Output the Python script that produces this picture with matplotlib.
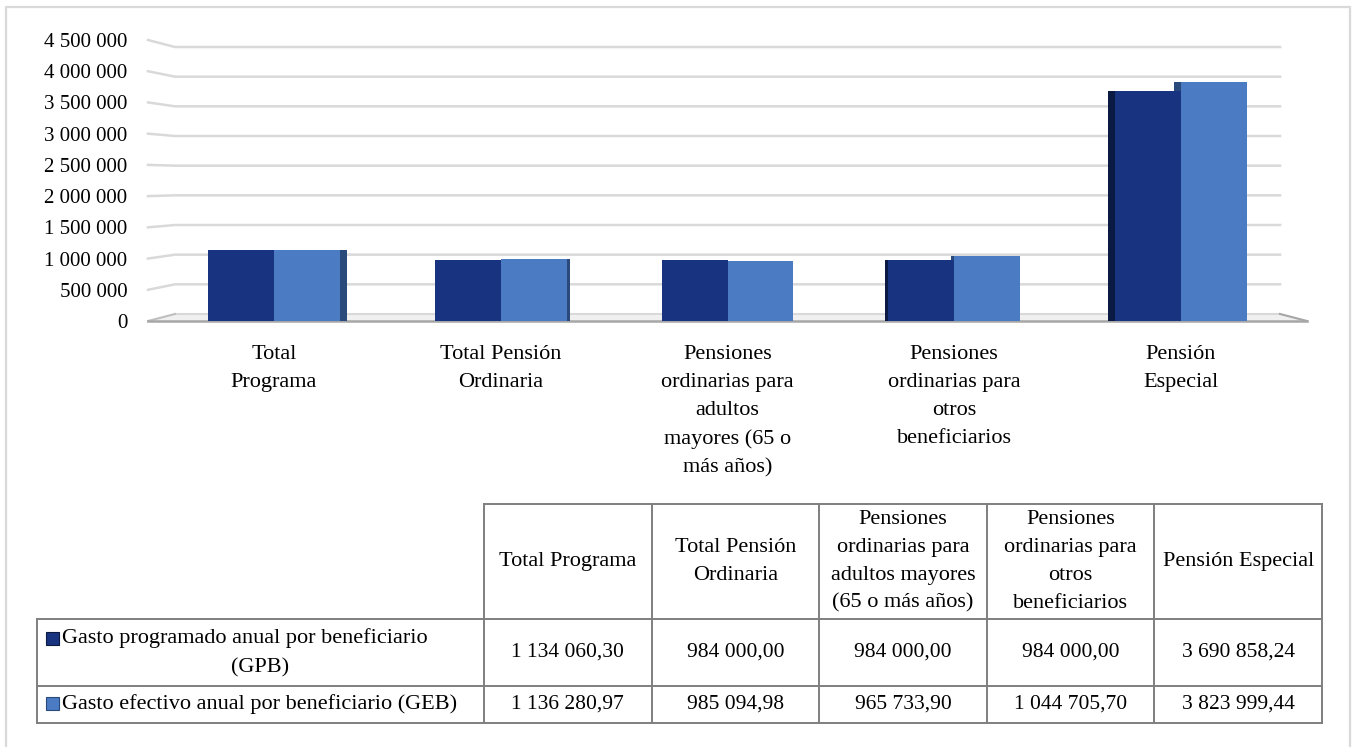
import numpy as np
import matplotlib
matplotlib.use('Agg')
import matplotlib.pyplot as plt
from matplotlib.patches import Polygon, Rectangle

plt.rcParams['font.family'] = ['Liberation Serif', 'DejaVu Serif']

axis_labels = ['Total\nPrograma', 'Total Pensión\nOrdinaria',
               'Pensiones\nordinarias para\nadultos\nmayores (65 o\nmás años)',
               'Pensiones\nordinarias para\notros\nbeneficiarios', 'Pensión\nEspecial']
table_headers = ['Total Programa', 'Total Pensión\nOrdinaria',
                 'Pensiones\nordinarias para\nadultos mayores\n(65 o más años)',
                 'Pensiones\nordinarias para\notros\nbeneficiarios', 'Pensión Especial']
gpb = [1134060.30, 984000.00, 984000.00, 984000.00, 3690858.24]
geb = [1136280.97, 985094.98, 965733.90, 1044705.70, 3823999.44]
series_names = ['Gasto programado anual por beneficiario', 'Gasto efectivo anual por beneficiario (GEB)']
yticks = [0, 500000, 1000000, 1500000, 2000000, 2500000, 3000000, 3500000, 4000000, 4500000]

dark = '#18337f'
light = '#4a7bc3'
dark_side = '#0b1a42'
light_side = '#2a4a7c'
grid_c = '#d9d9d9'
fs = 16      # words
fn = 15.5    # numbers

W, H = 1353, 747
fig = plt.figure(figsize=(W / 100, H / 100), dpi=100)

# main chart axes (pixel placement)
left, right, bottom, top = 148, 1307, 321, 40
ax = fig.add_axes([left / W, 1 - bottom / H, (right - left) / W, (bottom - top) / H])
x = np.arange(len(gpb))
xl, xr = -0.556, 4.556
ax.set_xlim(xl, xr)
ax.set_ylim(0, 4500000)
ppu = (right - left) / (xr - xl)

# back wall gridlines with a bit of perspective on the left
gl, gr = -0.437, 4.437
mid = 2250000
for v in yticks:
    vb = mid + (v - mid) * 0.95
    if v == 0:
        floor = Polygon([[xl, 0], [xr, 0], [gr, vb], [gl, vb]], closed=True,
                        facecolor='#f0f0f0', edgecolor='none', zorder=1, clip_on=False)
        ax.add_patch(floor)
        ax.plot([gl, gr], [vb, vb], color=grid_c, lw=1.5, zorder=1.2, clip_on=False)
        ax.plot([xl, gl], [0, vb], color='#bfbfbf', lw=1.5, zorder=1.2, clip_on=False)
        ax.plot([gr, xr], [vb, 0], color='#a6a6a6', lw=1.5, zorder=1.2, clip_on=False)
        ax.plot([xl, xr], [0, 0], color='#a6a6a6', lw=1.8, zorder=1.3, clip_on=False)
    else:
        ax.plot([xl, gl, gr], [v, vb, vb], color=grid_c, lw=1.8, zorder=0.5, clip_on=False)

bw = 0.29
off = bw / 2
ax.bar(x - off, gpb, width=bw, color=dark, zorder=3)
ax.bar(x + off, geb, width=bw, color=light, zorder=3)

# side faces for the 3D look
for i in range(len(x)):
    s = abs(i - 2) * 3.5 / ppu
    if s == 0:
        continue
    if i < 2:
        ax.bar(x[i] + off + bw / 2 + s / 2, geb[i], width=s, color=light_side, zorder=3)
    else:
        ax.bar(x[i] - off - bw / 2 - s / 2, gpb[i], width=s, color=dark_side, zorder=3)
        if geb[i] > gpb[i]:
            ax.bar(x[i] + off - bw / 2 - s / 2, geb[i] - gpb[i], bottom=gpb[i],
                   width=s, color=light_side, zorder=3)

ax.set_yticks(yticks)
ax.set_yticklabels([f"{v:,}".replace(',', ' ') for v in yticks], fontsize=15)
ax.set_xticks(x)
ax.set_xticklabels(axis_labels, fontsize=fs, linespacing=1.65, va='top')
ax.tick_params(axis='y', length=0, pad=15)
ax.tick_params(axis='x', length=0, pad=17)
for sp in ax.spines.values():
    sp.set_visible(False)
ax.patch.set_visible(False)

# overlay in pixel coordinates for border and table
ov = fig.add_axes([0, 0, 1, 1], zorder=-1)
ov.set_xlim(0, W)
ov.set_ylim(H, 0)
ov.axis('off')

ov.plot([6, 6, 1350, 1350], [H + 5, 7, 7, H + 5], color='#d9d9d9', lw=1.6)

tc = '#7f7f7f'
tlw = 1.4
col_edges = np.linspace(484, 1322, 6)
lab_l = 37
row_y = [504, 619, 686, 723]

ov.plot([col_edges[0], col_edges[-1]], [row_y[0], row_y[0]], color=tc, lw=tlw)
for y in row_y[1:]:
    ov.plot([lab_l, col_edges[-1]], [y, y], color=tc, lw=tlw)
for xe in col_edges:
    ov.plot([xe, xe], [row_y[0], row_y[-1]], color=tc, lw=tlw)
ov.plot([lab_l, lab_l], [row_y[1], row_y[-1]], color=tc, lw=tlw)

centers = (col_edges[:-1] + col_edges[1:]) / 2
hy = (row_y[0] + row_y[1]) / 2
r1 = (row_y[1] + row_y[2]) / 2
r2 = (row_y[2] + row_y[3]) / 2


def fmt(v):
    return f"{v:,.2f}".replace(',', ' ').replace('.', ',')


for c, hdr, a, b in zip(centers, table_headers, gpb, geb):
    ov.text(c, hy, hdr, ha='center', va='center', fontsize=fs, linespacing=1.62)
    ov.text(c, r1, fmt(a), ha='center', va='center', fontsize=fn)
    ov.text(c, r2, fmt(b), ha='center', va='center', fontsize=fn)

lab_c = (lab_l + col_edges[0]) / 2
ov.add_patch(Rectangle((46, 632), 13, 13, facecolor=dark, edgecolor='#0b1a42', lw=0.8))
ov.text(62, 638, series_names[0], ha='left', va='center', fontsize=fs)
ov.text(lab_c, 668, '(GPB)', ha='center', va='center', fontsize=fs)
ov.add_patch(Rectangle((46, 697), 13, 13, facecolor=light, edgecolor='#2a4a7c', lw=0.8))
ov.text(62, r2, series_names[1], ha='left', va='center', fontsize=fs)

fig.savefig('out.png', dpi=100)
